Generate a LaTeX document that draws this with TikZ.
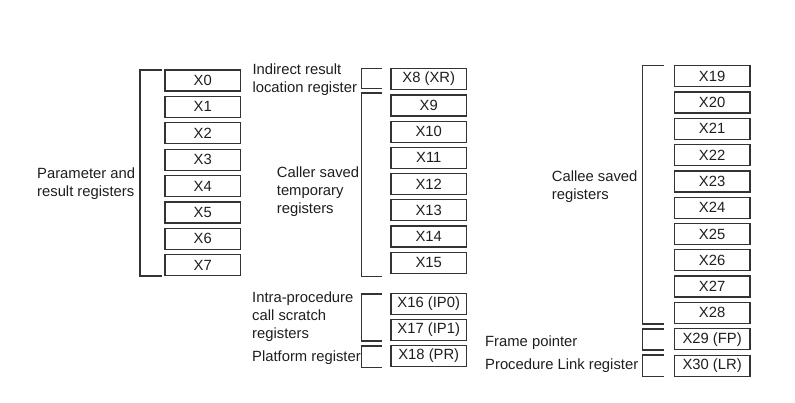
\documentclass[tikz,border=0pt]{standalone}
\usepackage{fontspec}
\setmainfont{Liberation Sans}
\usetikzlibrary{calc}
\definecolor{ink}{HTML}{1E1E1E}
\definecolor{edge}{HTML}{333333}
\tikzset{
  reg/.style={draw=edge, line width=1.3pt, minimum width=75.5pt, minimum height=21pt, inner sep=0pt, text=ink, font=\fontsize{14.8}{18}\selectfont},
  lbl/.style={anchor=west, inner sep=0pt, align=left, text=ink, font=\fontsize{14.8}{18}\selectfont},
  brak/.style={draw=edge, line width=1.3pt}
}
\newcommand{\brackt}[4]{\draw[brak] (#2,#3) -- (#1,#3) -- (#1,#4) -- (#2,#4);}
\begin{document}
\begin{tikzpicture}[x=1pt,y=-1pt]
\useasboundingbox (0,0) rectangle (795,403);
% column 1
\foreach \i in {0,...,7} {
  \node[reg] (X\i) at (202.75, {80.5+26.4*\i}) {X\i};
}
% column 2
\node[reg] (X8) at (428.75, 79) {X8 (XR)};
\foreach \i [evaluate=\i as \k using int(\i+9)] in {0,...,6} {
  \node[reg] (X\k) at (428.75, {105.5+26.2*\i}) {X\k};
}
\node[reg] (X16) at (428.75, 304) {X16 (IP0)};
\node[reg] (X17) at (428.75, 330) {X17 (IP1)};
\node[reg] (X18) at (428.75, 356) {X18 (PR)};
% column 3
\foreach \i [evaluate=\i as \k using int(\i+19)] in {0,...,9} {
  \node[reg] (X\k) at (712.15, {76.2+26.3*\i}) {X\k};
}
\node[reg] (X29) at (712.15, 339.2) {X29 (FP)};
\node[reg] (X30) at (712.15, 365.8) {X30 (LR)};
% brackets
\brackt{140}{161.7}{70}{276}
\brackt{361.7}{382}{68.3}{88.3}
\brackt{361.7}{382}{93}{276.7}
\brackt{361.7}{382}{294}{341}
\brackt{361.7}{382}{346}{367.3}
\brackt{642.7}{664.3}{65.7}{324}
\brackt{642.7}{664.3}{329}{350}
\brackt{642.7}{664.3}{355}{376.7}
% labels
\node[lbl] (lpar) at (37,184) {Parameter and\\result registers};
\node[lbl] (lind) at (252.3,80) {Indirect result\\location register};
\node[lbl] (lcal) at (276.7,192) {Caller saved\\temporary\\registers};
\node[lbl] (lint) at (252,317) {Intra-procedure\\call scratch\\registers};
\node[lbl] (lplt) at (252,358) {Platform register};
\node[lbl] (lcle) at (551.7,186.5) {Callee saved\\registers};
\node[lbl] (lfp) at (485,343) {Frame pointer};
\node[lbl] (llr) at (485,366) {Procedure Link register};
\end{tikzpicture}
\end{document}
